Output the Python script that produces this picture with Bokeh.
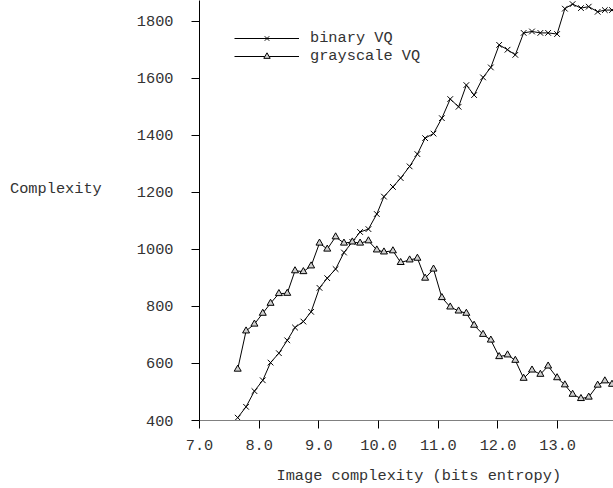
from bokeh.plotting import figure
from bokeh.models import (Range1d, FixedTicker, PrintfTickFormatter, Legend,
                          LegendItem, Title, ColumnDataSource)
from bokeh.embed import file_html
from bokeh.resources import INLINE

# ---- data ----
entropy = [7.64, 7.78, 7.92, 8.06, 8.19, 8.33, 8.47, 8.60, 8.74, 8.87,
           9.01, 9.14, 9.28, 9.42, 9.56, 9.69, 9.83, 9.97, 10.09, 10.24,
           10.37, 10.52, 10.65, 10.78, 10.92, 11.06, 11.20, 11.34, 11.47, 11.60,
           11.75, 11.88, 12.02, 12.16, 12.29, 12.43, 12.57, 12.71, 12.84, 12.99,
           13.12, 13.25, 13.39, 13.52, 13.67, 13.79, 13.91]
binary_vq = [410, 448, 503, 541, 603, 636, 681, 726, 747, 781,
             865, 899, 931, 989, 1026, 1061, 1071, 1124, 1185, 1219,
             1250, 1291, 1334, 1390, 1406, 1460, 1527, 1500, 1576, 1541,
             1603, 1638, 1717, 1700, 1682, 1759, 1764, 1759, 1759, 1755,
             1844, 1860, 1846, 1851, 1833, 1839, 1839]
grayscale_vq = [580, 714, 738, 776, 811, 845, 846, 925, 922, 942,
                1022, 1001, 1044, 1022, 1026, 1022, 1030, 998, 991, 995,
                954, 963, 969, 899, 931, 831, 798, 784, 776, 734,
                702, 682, 624, 630, 611, 548, 577, 562, 591, 550,
                525, 492, 477, 482, 524, 539, 527]
x_ticks = [7, 8, 9, 10, 11, 12, 13]
y_ticks = [400, 600, 800, 1000, 1200, 1400, 1600, 1800]
series_names = ["binary VQ", "grayscale VQ"]
x_title = "Image complexity (bits entropy)"
y_title = "Complexity"

FONT = "Liberation Mono"
FS = "15.3px"
TXT = "#333333"

src = ColumnDataSource(dict(x=entropy, b=binary_vq, g=grayscale_vq))

p = figure(width=613, height=488, output_backend="svg", toolbar_location=None,
           x_range=Range1d(7.0, 13.935), y_range=Range1d(400, 1872.6),
           min_border_left=199, min_border_right=0, min_border_top=0,
           min_border_bottom=68)
p.outline_line_color = None
p.xgrid.visible = False
p.ygrid.visible = False
p.background_fill_color = "white"
p.border_fill_color = "white"

# axes
p.xaxis.ticker = FixedTicker(ticks=x_ticks)
p.yaxis.ticker = FixedTicker(ticks=y_ticks)
p.xaxis.formatter = PrintfTickFormatter(format="%.1f")
p.yaxis.formatter = PrintfTickFormatter(format="%d")
for ax in (p.xaxis, p.yaxis):
    ax.major_tick_out = 8
    ax.major_tick_in = 0
    ax.minor_tick_out = 0
    ax.minor_tick_in = 0
    ax.major_tick_line_color = "black"
    ax.major_label_text_font = FONT
    ax.major_label_text_font_size = FS
    ax.major_label_text_color = TXT
    ax.axis_label_text_font = FONT
    ax.axis_label_text_font_size = FS
    ax.axis_label_text_color = TXT
    ax.axis_label_text_font_style = "normal"
p.xaxis.axis_line_color = "#808080"
p.yaxis.axis_line_color = "black"
p.xaxis.major_label_standoff = 11
p.yaxis.major_label_standoff = 18

# y title: horizontal, to the left of the tick labels
p.yaxis.axis_label = y_title + "\n\n"
p.yaxis.axis_label_orientation = "horizontal"
p.yaxis.axis_label_standoff = 32

# series
l1 = p.line("x", "b", source=src, line_color="black", line_width=1)
s1 = p.scatter("x", "b", source=src, marker="x", size=8, line_color="black",
               line_width=1)
l2 = p.line("x", "g", source=src, line_color="black", line_width=1)
s2 = p.scatter("x", "g", source=src, marker="triangle", size=7,
               line_color="black", fill_color="#d0d0d0", line_width=1)

legend = Legend(items=[LegendItem(label=series_names[0], renderers=[l1, s1]),
                       LegendItem(label=series_names[1], renderers=[l2, s2])],
                location=(35, 355), glyph_width=65, glyph_height=16,
                label_height=16, label_standoff=11, spacing=0, padding=0,
                margin=0, border_line_color=None, background_fill_alpha=0,
                label_text_font=FONT, label_text_font_size=FS,
                label_text_color=TXT)
p.add_layout(legend)

# x title: second line of a two-line title pushes it lower in the bottom band
p.add_layout(Title(text="\n" + x_title, align="left", offset=77, standoff=0,
                   text_line_height=0.82, vertical_align="top",
                   text_font=FONT, text_font_size=FS, text_color=TXT,
                   text_font_style="normal"), "below")

open("out.html", "w").write(file_html(p, INLINE))
